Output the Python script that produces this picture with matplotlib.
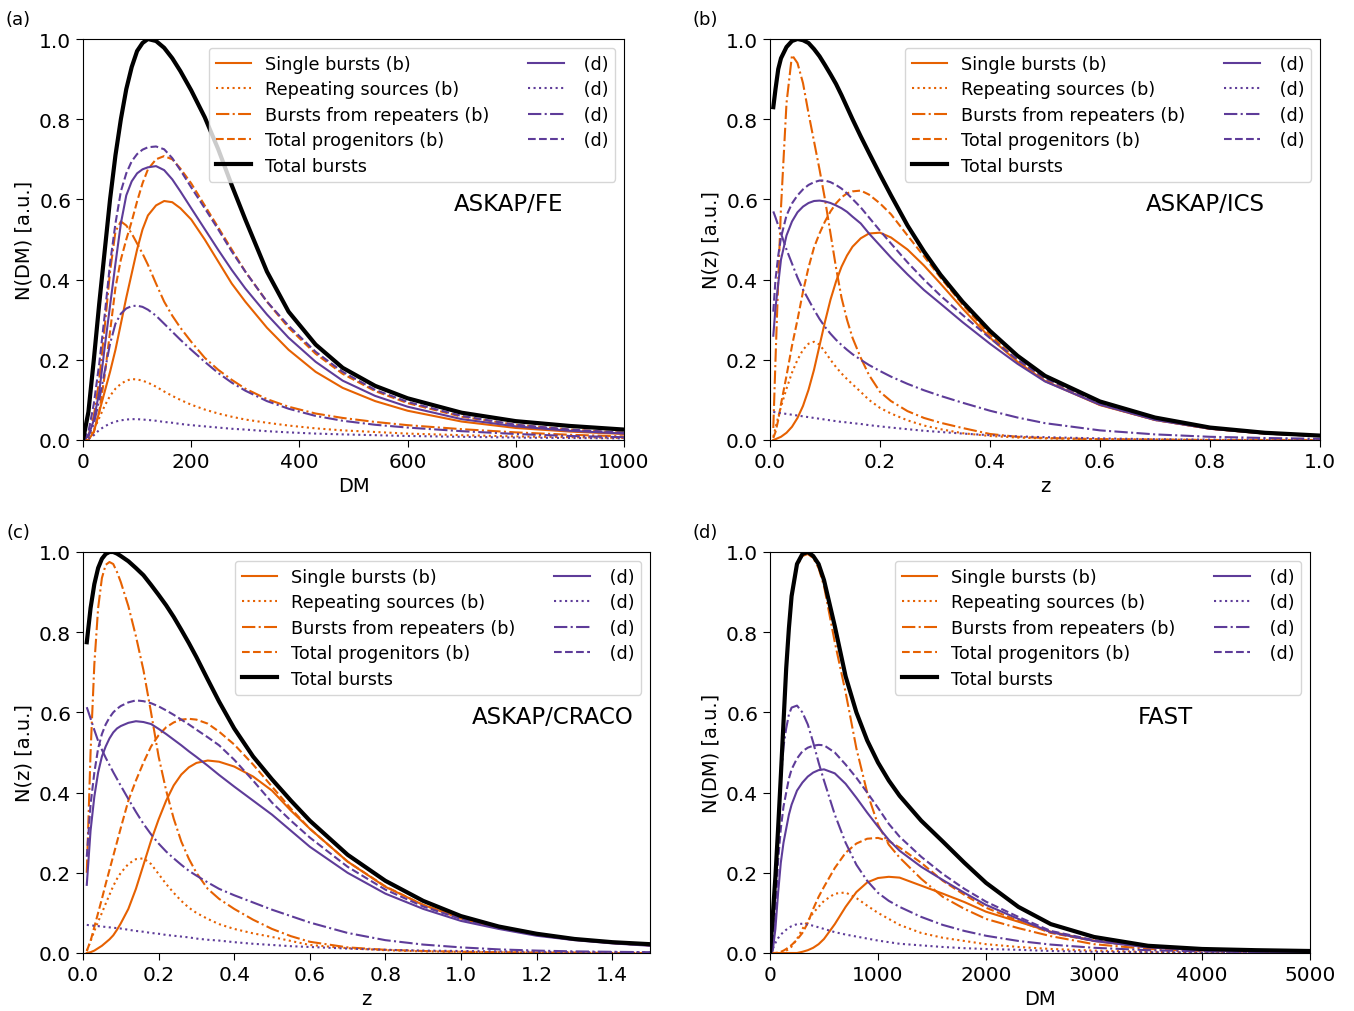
import numpy as np
import matplotlib.pyplot as plt

ORANGE = "#e66101"
PURPLE = "#5e3c99"

# ---------------- ASKAP/FE : N(DM) ----------------
fe_dm = [0, 10, 20, 30, 40, 50, 60, 70, 80, 90, 100, 110, 120, 135, 150, 165, 180, 200,
         225, 250, 275, 300, 340, 380, 430, 480, 540, 600, 700, 800, 900, 1000]
fe_total = [0.0, 0.07, 0.20, 0.34, 0.47, 0.60, 0.71, 0.80, 0.875, 0.93, 0.97, 0.99, 1.0, 0.995,
            0.978, 0.952, 0.92, 0.872, 0.805, 0.725, 0.635, 0.55, 0.42, 0.32, 0.238, 0.18, 0.135,
            0.104, 0.068, 0.047, 0.035, 0.026]
fe_single_b = [0.0, 0.0, 0.02, 0.07, 0.12, 0.17, 0.225, 0.29, 0.355, 0.415, 0.475, 0.525, 0.56,
               0.585, 0.596, 0.593, 0.578, 0.55, 0.50, 0.445, 0.39, 0.345, 0.28, 0.225, 0.17,
               0.13, 0.097, 0.073, 0.046, 0.03, 0.021, 0.015]
fe_repsrc_b = [0.0, 0.005, 0.025, 0.055, 0.085, 0.11, 0.128, 0.14, 0.148, 0.152, 0.151, 0.148,
               0.143, 0.133, 0.121, 0.11, 0.10, 0.088, 0.076, 0.066, 0.058, 0.051, 0.043, 0.036,
               0.029, 0.024, 0.02, 0.016, 0.012, 0.009, 0.007, 0.005]
fe_reprate_b = [0.0, 0.01, 0.06, 0.15, 0.28, 0.42, 0.52, 0.545, 0.535, 0.515, 0.49, 0.465, 0.437,
                0.39, 0.345, 0.31, 0.28, 0.245, 0.205, 0.175, 0.15, 0.128, 0.102, 0.083, 0.066,
                0.055, 0.045, 0.037, 0.027, 0.019, 0.013, 0.009]
fe_progen_b = [0.0, 0.0, 0.02, 0.07, 0.16, 0.27, 0.38, 0.45, 0.50, 0.545, 0.595, 0.64, 0.675,
               0.70, 0.708, 0.70, 0.677, 0.64, 0.585, 0.53, 0.475, 0.42, 0.345, 0.28, 0.215,
               0.165, 0.122, 0.092, 0.058, 0.038, 0.026, 0.018]
fe_single_d = [0.0, 0.01, 0.05, 0.12, 0.23, 0.335, 0.44, 0.54, 0.61, 0.645, 0.665, 0.675, 0.68,
               0.683, 0.673, 0.65, 0.62, 0.578, 0.526, 0.474, 0.424, 0.378, 0.313, 0.255, 0.195,
               0.148, 0.11, 0.083, 0.052, 0.034, 0.023, 0.016]
fe_repsrc_d = [0.0, 0.003, 0.012, 0.025, 0.034, 0.041, 0.046, 0.049, 0.051, 0.052, 0.052, 0.051,
               0.05, 0.048, 0.045, 0.043, 0.04, 0.037, 0.034, 0.031, 0.028, 0.026, 0.022, 0.019,
               0.016, 0.014, 0.012, 0.01, 0.008, 0.006, 0.005, 0.004]
fe_reprate_d = [0.0, 0.01, 0.04, 0.10, 0.17, 0.24, 0.29, 0.315, 0.328, 0.334, 0.335, 0.332, 0.325,
                0.31, 0.29, 0.27, 0.25, 0.225, 0.195, 0.167, 0.143, 0.123, 0.097, 0.078, 0.06,
                0.048, 0.038, 0.031, 0.022, 0.015, 0.01, 0.007]
fe_progen_d = [0.0, 0.02, 0.09, 0.19, 0.31, 0.44, 0.54, 0.62, 0.665, 0.695, 0.713, 0.724, 0.73,
               0.732, 0.725, 0.703, 0.673, 0.63, 0.578, 0.525, 0.47, 0.42, 0.345, 0.285, 0.22,
               0.17, 0.125, 0.095, 0.06, 0.038, 0.026, 0.018]

# ---------------- ASKAP/ICS : N(z) ----------------
ics_z = [0.006, 0.01, 0.015, 0.02, 0.03, 0.04, 0.05, 0.06, 0.07, 0.08, 0.09, 0.1, 0.11, 0.12,
         0.13, 0.14, 0.15, 0.165, 0.18, 0.2, 0.22, 0.25, 0.28, 0.31, 0.35, 0.4, 0.45, 0.5, 0.6,
         0.7, 0.8, 0.9, 1.0]
ics_total = [0.83, 0.875, 0.925, 0.952, 0.98, 0.995, 1.0, 0.997, 0.99, 0.975, 0.957, 0.935,
             0.912, 0.888, 0.86, 0.83, 0.80, 0.757, 0.716, 0.662, 0.61, 0.535, 0.47, 0.412, 0.345,
             0.272, 0.21, 0.16, 0.096, 0.056, 0.031, 0.018, 0.011]
ics_single_b = [0.0, 0.002, 0.005, 0.008, 0.018, 0.033, 0.055, 0.085, 0.125, 0.175, 0.235, 0.295,
                0.35, 0.395, 0.432, 0.46, 0.482, 0.503, 0.515, 0.517, 0.505, 0.475, 0.435, 0.39,
                0.328, 0.255, 0.195, 0.147, 0.087, 0.05, 0.028, 0.016, 0.01]
ics_repsrc_b = [0.008, 0.03, 0.058, 0.083, 0.128, 0.168, 0.20, 0.225, 0.24, 0.245, 0.238, 0.22,
                0.20, 0.182, 0.166, 0.152, 0.139, 0.12, 0.10, 0.08, 0.066, 0.049, 0.036, 0.027,
                0.017, 0.01, 0.006, 0.004, 0.002, 0.001, 0.0, 0.0, 0.0]
ics_reprate_b = [0.03, 0.2, 0.4, 0.58, 0.84, 0.96, 0.94, 0.89, 0.815, 0.745, 0.675, 0.60, 0.515,
                 0.43, 0.355, 0.30, 0.255, 0.205, 0.162, 0.12, 0.097, 0.072, 0.055, 0.043, 0.03,
                 0.015, 0.008, 0.005, 0.002, 0.001, 0.0, 0.0, 0.0]
ics_progen_b = [0.005, 0.02, 0.05, 0.09, 0.16, 0.235, 0.30, 0.37, 0.43, 0.48, 0.515, 0.545, 0.57,
                0.59, 0.605, 0.615, 0.62, 0.622, 0.612, 0.59, 0.563, 0.51, 0.458, 0.405, 0.338,
                0.262, 0.198, 0.149, 0.088, 0.05, 0.028, 0.016, 0.01]
ics_single_d = [0.26, 0.33, 0.39, 0.45, 0.51, 0.545, 0.568, 0.582, 0.591, 0.596, 0.597, 0.595,
                0.591, 0.585, 0.578, 0.569, 0.557, 0.54, 0.515, 0.485, 0.455, 0.413, 0.374, 0.34,
                0.294, 0.24, 0.19, 0.146, 0.088, 0.05, 0.028, 0.016, 0.01]
ics_repsrc_d = [0.07, 0.069, 0.068, 0.067, 0.065, 0.063, 0.061, 0.059, 0.057, 0.055, 0.053, 0.051,
                0.049, 0.047, 0.045, 0.044, 0.042, 0.04, 0.037, 0.034, 0.031, 0.027, 0.023, 0.02,
                0.016, 0.012, 0.009, 0.007, 0.004, 0.002, 0.001, 0.001, 0.0]
ics_reprate_d = [0.57, 0.555, 0.535, 0.515, 0.475, 0.44, 0.405, 0.375, 0.35, 0.325, 0.302, 0.282,
                 0.265, 0.25, 0.237, 0.225, 0.214, 0.20, 0.187, 0.172, 0.158, 0.14, 0.124, 0.11,
                 0.093, 0.073, 0.056, 0.042, 0.024, 0.014, 0.008, 0.005, 0.003]
ics_progen_d = [0.32, 0.40, 0.46, 0.505, 0.56, 0.59, 0.61, 0.625, 0.636, 0.643, 0.647, 0.647,
                0.643, 0.636, 0.627, 0.615, 0.601, 0.58, 0.555, 0.522, 0.49, 0.443, 0.40, 0.36,
                0.312, 0.254, 0.20, 0.154, 0.092, 0.053, 0.03, 0.017, 0.01]

# ---------------- ASKAP/CRACO : N(z) ----------------
craco_z = [0.01, 0.02, 0.03, 0.04, 0.05, 0.06, 0.07, 0.08, 0.09, 0.1, 0.12, 0.14, 0.16, 0.18,
           0.2, 0.22, 0.24, 0.26, 0.28, 0.3, 0.33, 0.36, 0.4, 0.45, 0.5, 0.55, 0.6, 0.7, 0.8,
           0.9, 1.0, 1.1, 1.2, 1.3, 1.4, 1.5]
craco_total = [0.775, 0.86, 0.92, 0.96, 0.983, 0.995, 1.0, 1.0, 0.996, 0.99, 0.977, 0.96, 0.942,
               0.918, 0.893, 0.867, 0.838, 0.806, 0.773, 0.738, 0.682, 0.627, 0.56, 0.49, 0.433,
               0.38, 0.33, 0.245, 0.18, 0.13, 0.092, 0.066, 0.048, 0.035, 0.027, 0.022]
craco_single_b = [0.0, 0.002, 0.006, 0.012, 0.018, 0.026, 0.034, 0.044, 0.058, 0.074, 0.11, 0.16,
                  0.22, 0.28, 0.333, 0.38, 0.418, 0.445, 0.463, 0.474, 0.48, 0.477, 0.465, 0.44,
                  0.405, 0.355, 0.31, 0.228, 0.165, 0.12, 0.086, 0.062, 0.045, 0.033, 0.025, 0.019]
craco_repsrc_b = [0.005, 0.03, 0.055, 0.078, 0.10, 0.123, 0.145, 0.167, 0.185, 0.20, 0.222, 0.234,
                  0.236, 0.222, 0.197, 0.172, 0.15, 0.13, 0.113, 0.10, 0.085, 0.072, 0.06, 0.049,
                  0.04, 0.03, 0.02, 0.012, 0.007, 0.004, 0.003, 0.002, 0.001, 0.001, 0.0, 0.0]
craco_reprate_b = [0.2, 0.5, 0.72, 0.86, 0.935, 0.968, 0.975, 0.97, 0.95, 0.925, 0.865, 0.79, 0.705,
                   0.60, 0.49, 0.405, 0.335, 0.278, 0.235, 0.20, 0.16, 0.135, 0.11, 0.083, 0.06,
                   0.042, 0.028, 0.014, 0.008, 0.005, 0.003, 0.002, 0.001, 0.001, 0.0, 0.0]
craco_progen_b = [0.005, 0.03, 0.065, 0.10, 0.135, 0.172, 0.207, 0.242, 0.277, 0.312, 0.38, 0.43,
                  0.475, 0.515, 0.543, 0.563, 0.575, 0.582, 0.584, 0.582, 0.572, 0.552, 0.52, 0.47,
                  0.415, 0.36, 0.31, 0.228, 0.166, 0.12, 0.087, 0.063, 0.046, 0.034, 0.025, 0.019]
craco_single_d = [0.17, 0.305, 0.39, 0.45, 0.49, 0.515, 0.535, 0.55, 0.56, 0.566, 0.574, 0.578,
                  0.576, 0.571, 0.559, 0.546, 0.532, 0.518, 0.503, 0.489, 0.467, 0.444, 0.415,
                  0.38, 0.345, 0.305, 0.265, 0.20, 0.148, 0.11, 0.08, 0.06, 0.043, 0.032, 0.024,
                  0.018]
craco_repsrc_d = [0.07, 0.069, 0.068, 0.067, 0.066, 0.065, 0.064, 0.063, 0.062, 0.061, 0.058, 0.055,
                  0.053, 0.05, 0.048, 0.045, 0.043, 0.041, 0.039, 0.036, 0.033, 0.031, 0.027, 0.023,
                  0.02, 0.017, 0.015, 0.011, 0.008, 0.006, 0.005, 0.004, 0.003, 0.002, 0.002, 0.002]
craco_reprate_d = [0.613, 0.585, 0.556, 0.529, 0.507, 0.487, 0.469, 0.451, 0.434, 0.417, 0.384,
                   0.352, 0.322, 0.296, 0.273, 0.253, 0.236, 0.22, 0.205, 0.193, 0.176, 0.16, 0.144,
                   0.126, 0.108, 0.092, 0.076, 0.05, 0.032, 0.021, 0.014, 0.009, 0.006, 0.004, 0.003,
                   0.002]
craco_progen_d = [0.24, 0.37, 0.45, 0.51, 0.546, 0.57, 0.587, 0.60, 0.609, 0.616, 0.625, 0.63,
                  0.628, 0.623, 0.615, 0.605, 0.594, 0.582, 0.57, 0.557, 0.538, 0.518, 0.482, 0.43,
                  0.375, 0.33, 0.288, 0.215, 0.158, 0.116, 0.085, 0.063, 0.046, 0.034, 0.025, 0.019]

# ---------------- FAST : N(DM) ----------------
fast_dm = [0, 25, 50, 75, 100, 125, 150, 175, 200, 250, 300, 350, 400, 450, 500, 600, 700, 800,
           900, 1000, 1100, 1200, 1400, 1600, 1800, 2000, 2300, 2600, 3000, 3500, 4000, 4500, 5000]
fast_total = [0.0, 0.09, 0.19, 0.31, 0.44, 0.575, 0.71, 0.81, 0.89, 0.97, 0.995, 1.0, 0.99, 0.97,
              0.93, 0.815, 0.69, 0.60, 0.53, 0.475, 0.43, 0.392, 0.33, 0.278, 0.225, 0.175, 0.115,
              0.072, 0.04, 0.018, 0.01, 0.007, 0.005]
fast_single_b = [0.0, 0.0, 0.0, 0.0, 0.0, 0.0, 0.0, 0.0, 0.0, 0.0, 0.003, 0.007, 0.013, 0.022,
                 0.035, 0.072, 0.115, 0.152, 0.176, 0.187, 0.19, 0.188, 0.168, 0.148, 0.127, 0.103,
                 0.078, 0.053, 0.031, 0.015, 0.008, 0.004, 0.002]
fast_repsrc_b = [0.0, 0.0, 0.0, 0.0, 0.001, 0.003, 0.006, 0.01, 0.016, 0.035, 0.06, 0.08, 0.10,
                 0.115, 0.13, 0.148, 0.151, 0.137, 0.118, 0.10, 0.085, 0.07, 0.05, 0.038, 0.03,
                 0.022, 0.015, 0.01, 0.006, 0.003, 0.002, 0.001, 0.001]
fast_reprate_b = [0.0, 0.088, 0.186, 0.305, 0.435, 0.568, 0.702, 0.802, 0.885, 0.965, 0.99, 0.995,
                  0.985, 0.96, 0.915, 0.775, 0.65, 0.51, 0.40, 0.32, 0.27, 0.238, 0.185, 0.14, 0.11,
                  0.085, 0.062, 0.042, 0.022, 0.01, 0.005, 0.003, 0.002]
fast_progen_b = [0.0, 0.0, 0.0, 0.001, 0.003, 0.006, 0.01, 0.015, 0.02, 0.033, 0.05, 0.075, 0.11,
                 0.14, 0.165, 0.212, 0.25, 0.273, 0.285, 0.287, 0.279, 0.263, 0.225, 0.18, 0.145,
                 0.113, 0.08, 0.05, 0.03, 0.014, 0.007, 0.004, 0.002]
fast_single_d = [0.0, 0.005, 0.06, 0.15, 0.225, 0.275, 0.31, 0.345, 0.37, 0.405, 0.425, 0.44,
                 0.45, 0.456, 0.458, 0.448, 0.422, 0.387, 0.35, 0.315, 0.282, 0.255, 0.215, 0.182,
                 0.15, 0.12, 0.085, 0.052, 0.03, 0.014, 0.007, 0.004, 0.002]
fast_repsrc_d = [0.0, 0.01, 0.025, 0.037, 0.046, 0.052, 0.058, 0.063, 0.067, 0.072, 0.073, 0.071,
                 0.068, 0.064, 0.06, 0.052, 0.046, 0.041, 0.036, 0.031, 0.027, 0.023, 0.019, 0.015,
                 0.012, 0.01, 0.008, 0.005, 0.003, 0.002, 0.001, 0.001, 0.001]
fast_reprate_d = [0.0, 0.02, 0.15, 0.30, 0.43, 0.515, 0.56, 0.595, 0.612, 0.617, 0.60, 0.57, 0.525,
                  0.475, 0.43, 0.345, 0.275, 0.22, 0.18, 0.15, 0.13, 0.115, 0.09, 0.07, 0.055,
                  0.043, 0.03, 0.021, 0.013, 0.007, 0.004, 0.002, 0.001]
fast_progen_d = [0.0, 0.01, 0.09, 0.23, 0.31, 0.365, 0.40, 0.435, 0.458, 0.485, 0.503, 0.512,
                 0.517, 0.519, 0.518, 0.50, 0.47, 0.437, 0.40, 0.362, 0.322, 0.29, 0.24, 0.197,
                 0.16, 0.128, 0.09, 0.055, 0.032, 0.015, 0.008, 0.004, 0.002]

labels_b = ["Single bursts (b)", "Repeating sources (b)", "Bursts from repeaters (b)",
            "Total progenitors (b)"]
styles = ["-", ":", "-.", "--"]

# panel letter, survey name, x label, y label, x range, x ticks, axes box in pixels
panels = [
    ("(a)", "ASKAP/FE", "DM", "N(DM) [a.u.]", (0, 1000), np.arange(0, 1001, 200), (83, 40, 624, 441),
     (0.786, 0.591), fe_dm, fe_total,
     [fe_single_b, fe_repsrc_b, fe_reprate_b, fe_progen_b],
     [fe_single_d, fe_repsrc_d, fe_reprate_d, fe_progen_d]),
    ("(b)", "ASKAP/ICS", "z", "N(z) [a.u.]", (0, 1.0), np.arange(0, 1.01, 0.2), (770, 40, 1320, 441),
     (0.791, 0.591), ics_z, ics_total,
     [ics_single_b, ics_repsrc_b, ics_reprate_b, ics_progen_b],
     [ics_single_d, ics_repsrc_d, ics_reprate_d, ics_progen_d]),
    ("(c)", "ASKAP/CRACO", "z", "N(z) [a.u.]", (0, 1.5), np.arange(0, 1.41, 0.2), (83, 553, 650, 954),
     (0.829, 0.591), craco_z, craco_total,
     [craco_single_b, craco_repsrc_b, craco_reprate_b, craco_progen_b],
     [craco_single_d, craco_repsrc_d, craco_reprate_d, craco_progen_d]),
    ("(d)", "FAST", "DM", "N(DM) [a.u.]", (0, 5000), np.arange(0, 5001, 1000), (770, 553, 1310, 954),
     (0.733, 0.591), fast_dm, fast_total,
     [fast_single_b, fast_repsrc_b, fast_reprate_b, fast_progen_b],
     [fast_single_d, fast_repsrc_d, fast_reprate_d, fast_progen_d]),
]

W, H = 1354, 1012
fig = plt.figure(figsize=(W / 100, H / 100), dpi=100)

for (letter, name, xlab, ylab, xlim, xticks, box, txt_pos,
     x, total, curves_b, curves_d) in panels:
    l, t, r, b = box
    ax = fig.add_axes([l / W, 1 - b / H, (r - l) / W, (b - t) / H])

    handles = []
    for ys, ls, lab in zip(curves_b, styles, labels_b):
        h, = ax.plot(x, ys, ls, color=ORANGE, lw=1.5, label=lab)
        handles.append(h)
    h, = ax.plot(x, total, "-", color="black", lw=3, label="Total bursts", zorder=3)
    handles.append(h)
    for ys, ls in zip(curves_d, styles):
        h, = ax.plot(x, ys, ls, color=PURPLE, lw=1.5, label=" (d)")
        handles.append(h)

    ax.set_xlim(*xlim)
    ax.set_ylim(0, 1)
    ax.set_xticks(xticks)
    ax.set_yticks(np.arange(0, 1.01, 0.2))
    if xlab == "z":
        ax.set_xticklabels([f"{v:.1f}" for v in xticks])
    ax.set_yticklabels([f"{v:.1f}" for v in np.arange(0, 1.01, 0.2)])
    ax.tick_params(labelsize=14.5, length=5)
    ax.set_xlabel(xlab, fontsize=14)
    ax.set_ylabel(ylab, fontsize=14)

    ax.legend(handles=handles, ncol=2, loc="upper right", fontsize=12.7,
              labelspacing=0.42, handletextpad=0.8, columnspacing=2.2)
    ax.text(txt_pos[0], txt_pos[1], name, transform=ax.transAxes, fontsize=16.5,
            ha="center", va="center")

    fig.text((l - 65) / W, 1 - (t - 20) / H, letter, fontsize=13, ha="center", va="center")

fig.savefig("out.png", dpi=100)
